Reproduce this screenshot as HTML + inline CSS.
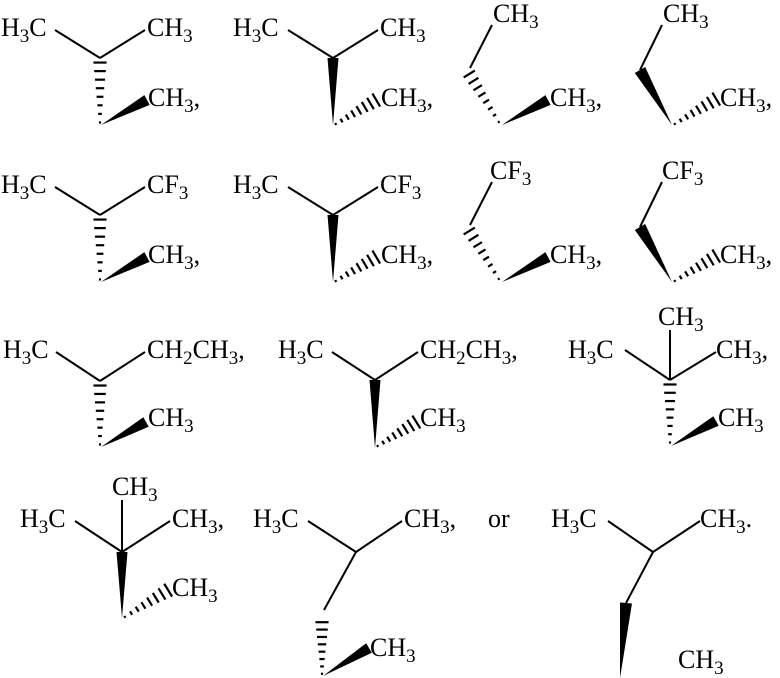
<!DOCTYPE html>
<html><head><meta charset="utf-8"><style>
html,body{margin:0;padding:0;background:#fff;}
svg{display:block;}
svg text{font-family:"Liberation Serif","Times New Roman",Times,"DejaVu Serif",serif;font-size:26px;fill:#000;}
svg tspan.s{font-size:19px;}
</style></head><body>
<svg id="s" width="780" height="678" viewBox="0 0 780 678" xmlns="http://www.w3.org/2000/svg">
<g id="t">
<text x="1" y="36">H<tspan class="s" dy="6">3</tspan><tspan dy="-6">C</tspan></text>
<text x="147" y="36">CH<tspan class="s" dy="6">3</tspan></text>
<text x="148" y="106">CH<tspan class="s" dy="6">3</tspan><tspan dy="-6">,</tspan></text>
<text x="233" y="36">H<tspan class="s" dy="6">3</tspan><tspan dy="-6">C</tspan></text>
<text x="380" y="36">CH<tspan class="s" dy="6">3</tspan></text>
<text x="381" y="106">CH<tspan class="s" dy="6">3</tspan><tspan dy="-6">,</tspan></text>
<text x="493" y="22">CH<tspan class="s" dy="6">3</tspan></text>
<text x="550" y="106">CH<tspan class="s" dy="6">3</tspan><tspan dy="-6">,</tspan></text>
<text x="663" y="22">CH<tspan class="s" dy="6">3</tspan></text>
<text x="720" y="106">CH<tspan class="s" dy="6">3</tspan><tspan dy="-6">,</tspan></text>
<text x="1" y="193">H<tspan class="s" dy="6">3</tspan><tspan dy="-6">C</tspan></text>
<text x="147" y="193">CF<tspan class="s" dy="6">3</tspan></text>
<text x="148" y="263">CH<tspan class="s" dy="6">3</tspan><tspan dy="-6">,</tspan></text>
<text x="233" y="193">H<tspan class="s" dy="6">3</tspan><tspan dy="-6">C</tspan></text>
<text x="380" y="193">CF<tspan class="s" dy="6">3</tspan></text>
<text x="381" y="263">CH<tspan class="s" dy="6">3</tspan><tspan dy="-6">,</tspan></text>
<text x="490" y="179">CF<tspan class="s" dy="6">3</tspan></text>
<text x="550" y="263">CH<tspan class="s" dy="6">3</tspan><tspan dy="-6">,</tspan></text>
<text x="662" y="179">CF<tspan class="s" dy="6">3</tspan></text>
<text x="720" y="263">CH<tspan class="s" dy="6">3</tspan><tspan dy="-6">,</tspan></text>
<text x="3" y="358">H<tspan class="s" dy="6">3</tspan><tspan dy="-6">C</tspan></text>
<text x="147" y="358">CH<tspan class="s" dy="6">2</tspan><tspan dy="-6">CH</tspan><tspan class="s" dy="6">3</tspan><tspan dy="-6">,</tspan></text>
<text x="148" y="426">CH<tspan class="s" dy="6">3</tspan></text>
<text x="278" y="358">H<tspan class="s" dy="6">3</tspan><tspan dy="-6">C</tspan></text>
<text x="420" y="358">CH<tspan class="s" dy="6">2</tspan><tspan dy="-6">CH</tspan><tspan class="s" dy="6">3</tspan><tspan dy="-6">,</tspan></text>
<text x="420" y="426">CH<tspan class="s" dy="6">3</tspan></text>
<text x="568" y="358">H<tspan class="s" dy="6">3</tspan><tspan dy="-6">C</tspan></text>
<text x="658" y="325">CH<tspan class="s" dy="6">3</tspan></text>
<text x="716" y="358">CH<tspan class="s" dy="6">3</tspan><tspan dy="-6">,</tspan></text>
<text x="718" y="426">CH<tspan class="s" dy="6">3</tspan></text>
<text x="112" y="495">CH<tspan class="s" dy="6">3</tspan></text>
<text x="20" y="527">H<tspan class="s" dy="6">3</tspan><tspan dy="-6">C</tspan></text>
<text x="172" y="527">CH<tspan class="s" dy="6">3</tspan><tspan dy="-6">,</tspan></text>
<text x="172" y="596">CH<tspan class="s" dy="6">3</tspan></text>
<text x="253" y="527">H<tspan class="s" dy="6">3</tspan><tspan dy="-6">C</tspan></text>
<text x="404" y="527">CH<tspan class="s" dy="6">3</tspan><tspan dy="-6">,</tspan></text>
<text x="370" y="656">CH<tspan class="s" dy="6">3</tspan></text>
<text x="488" y="527">or</text>
<text x="551" y="527">H<tspan class="s" dy="6">3</tspan><tspan dy="-6">C</tspan></text>
<text x="700" y="527">CH<tspan class="s" dy="6">3</tspan><tspan dy="-6">.</tspan></text>
<text x="678" y="668">CH<tspan class="s" dy="6">3</tspan></text>
</g>
<g id="b" stroke="#000" stroke-width="2" fill="#000"></g>
</svg>
<script>
var g=document.getElementById('b'),out='';
function L(a,b,c,d){out+='<line x1="'+a+'" y1="'+b+'" x2="'+c+'" y2="'+d+'"/>';}
function W(x1,y1,x2,y2,w){w=w||5.5;var dx=x2-x1,dy=y2-y1,l=Math.hypot(dx,dy),px=-dy/l*w,py=dx/l*w;
out+='<polygon stroke="none" points="'+x1+','+y1+' '+(x2+px)+','+(y2+py)+' '+(x2-px)+','+(y2-py)+'"/>';}
function H(x1,y1,x2,y2,w){w=w||6;var dx=x2-x1,dy=y2-y1,l=Math.hypot(dx,dy),ux=-dy/l,uy=dx/l,n=8;
for(var i=0;i<n;i++){var t=(i+0.3)/(n-0.4),cx=x1+dx*t,cy=y1+dy*t,h=0.8+w*t;
out+='<line stroke-width="2.2" x1="'+(cx+ux*h)+'" y1="'+(cy+uy*h)+'" x2="'+(cx-ux*h)+'" y2="'+(cy-uy*h)+'"/>';}}
[0,157].forEach(function(o){
 L(55,30+o,100,58+o);L(100,58+o,145,30+o);H(100,125+o,100,60+o);W(101,125+o,147,100+o);
 L(288,30+o,333,58+o);L(333,58+o,378,30+o);W(333,125+o,333,58+o);H(334,125+o,378,99+o,7);
 L(492,25+o,470,68+o);H(500,124+o,468,72+o);W(502,125+o,548,100+o);
 L(662,25+o,640,70+o);W(672,125+o,640,70+o,6);H(673,125+o,718,98+o,7);
});
L(56,352,100,381);L(100,381,145,352);H(100,447,100,383);W(101,447,146,422);
L(332,352,375,380);L(375,380,418,352);W(375,448,375,380);H(376,447,418,421,7);
L(625,350,670,380);L(670,380,716,352);L(670,330,670,380);H(670,445,670,382);W(671,446,716,421);
L(75,521,122,552);L(122,552,170,521);L(122,500,122,552);W(122,618,122,552);H(123,618,170,589,7);
L(308,521,356,552);L(356,552,402,521);L(356,552,324,610);H(322,676,322,620);W(323,676,369,648);
L(608,521,653,552);L(653,552,700,521);L(653,552,626,603);W(620,678,626,603,6);
g.innerHTML=out;
</script>
</body></html>
